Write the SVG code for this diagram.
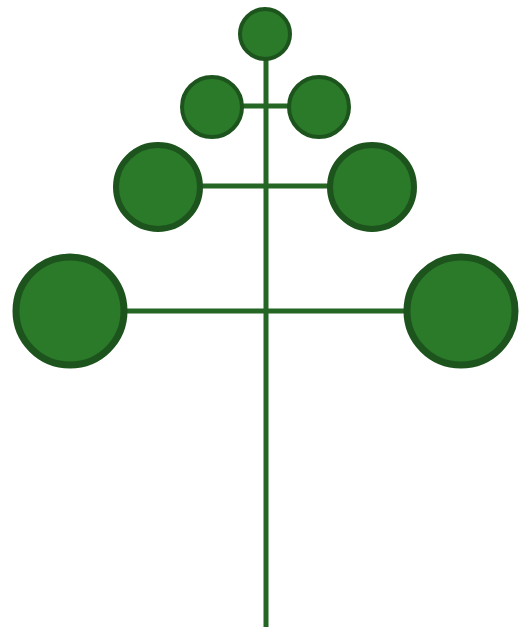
<svg xmlns="http://www.w3.org/2000/svg" width="520" height="629" viewBox="0 0 520 629">
<style>
.n{fill:#2a7a2a;stroke:#1d541d}
.c{stroke:#256625;stroke-width:5;fill:none}
</style>
<rect width="520" height="629" fill="#ffffff"/>
<g id="connectors">
<line class="c" x1="266" y1="40" x2="266" y2="627"/>
<line class="c" x1="212" y1="106" x2="319" y2="106"/>
<line class="c" x1="158" y1="186" x2="372" y2="186"/>
<line class="c" x1="70" y1="311" x2="461" y2="311"/>
</g>
<g id="n1"><circle class="n" cx="265" cy="34" r="25" stroke-width="4"/></g>
<g id="n2"><circle class="n" cx="212" cy="107" r="30" stroke-width="4"/></g>
<g id="n3"><circle class="n" cx="319" cy="107" r="30" stroke-width="4"/></g>
<g id="n4"><circle class="n" cx="158" cy="187" r="42" stroke-width="6"/></g>
<g id="n5"><circle class="n" cx="372" cy="187" r="42" stroke-width="6"/></g>
<g id="n6"><circle class="n" cx="70" cy="311" r="54" stroke-width="7"/></g>
<g id="n7"><circle class="n" cx="461" cy="311" r="54" stroke-width="7"/></g>
</svg>
